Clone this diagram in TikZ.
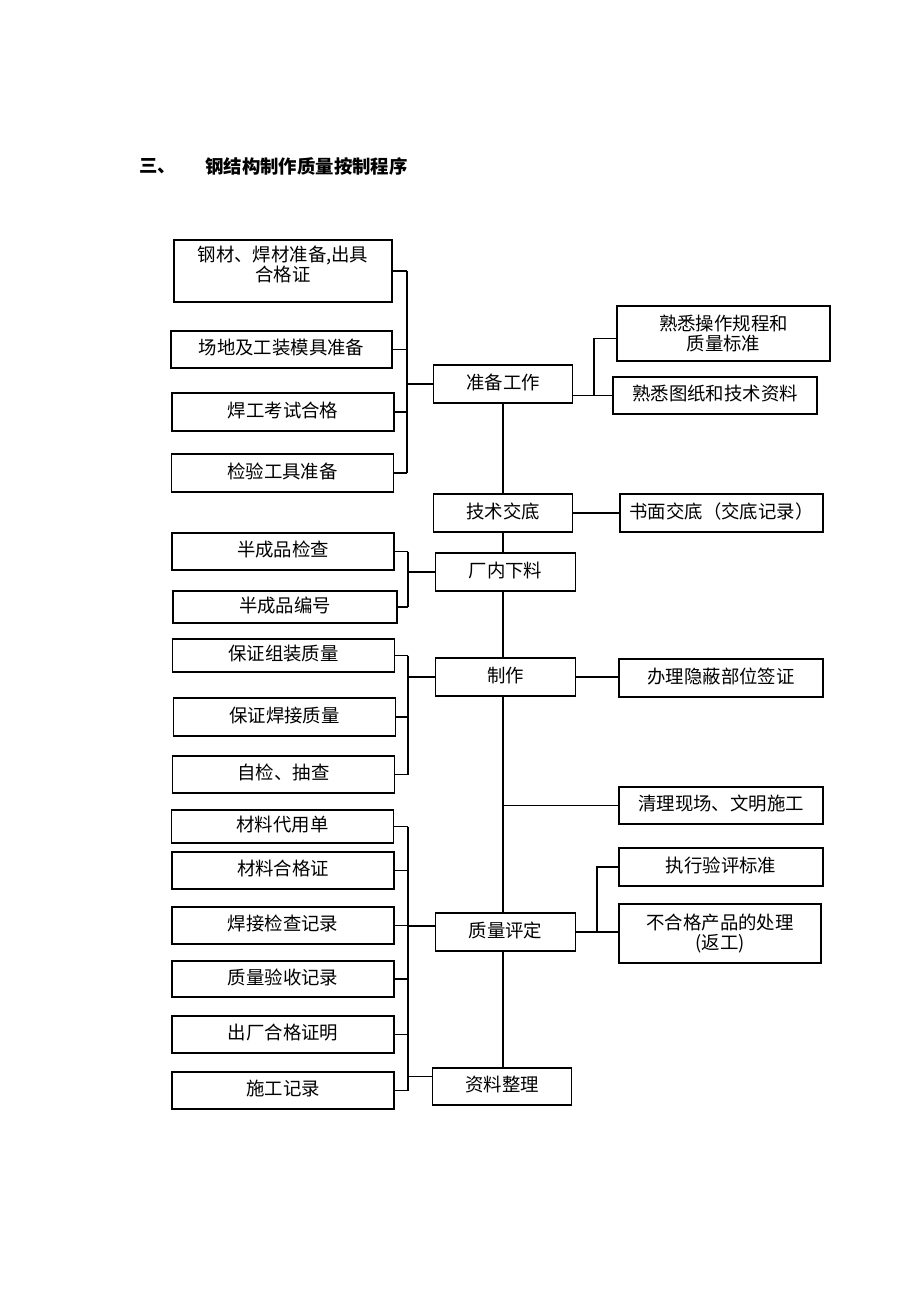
\documentclass[tikz,border=0pt]{standalone}
\usepackage{fontspec}
\setmainfont{Noto Sans CJK SC}
\usetikzlibrary{positioning,calc}
\tikzset{
	box/.style={draw=black, line width=0.9pt, inner sep=0pt, align=center, font=\fontsize{13.8pt}{15pt}\selectfont},
	row/.style={text height=12pt, text depth=4.5pt},
	leftbox/.style={box, row, minimum width=166.5pt, minimum height=27.75pt},
	midbox/.style={box, row, minimum width=104.5pt, minimum height=28.5pt},
	rightbox/.style={box, row, minimum width=153pt, minimum height=27.75pt},
	link/.style={line width=0.9pt},
	heading/.style={anchor=west, inner sep=0pt, font=\fontsize{13.8pt}{15pt}\selectfont\bfseries}
}

\begin{document}
\begin{tikzpicture}[x=0.75pt, y=-0.75pt]

	\useasboundingbox (0,0) rectangle (920,1302);

	\node (title-no) [heading] at (139,166) {三、};
	\node (title) [heading] at (205,166) {钢结构制作质量按制程序};

	% middle column
	\node (prep) [midbox] at (503,384) {准备工作};
	\node (brief) [midbox] at (503,513) {技术交底};
	\node (cutting) [midbox] at (505.5,572) {厂内下料};
	\node (making) [midbox] at (505.5,677) {制作};
	\node (rating) [midbox] at (505.5,932) {质量评定};
	\node (records) [midbox, minimum height=27.75pt] at (502,1086.5) {资料整理};

	% left column
	\node (material) [box, minimum width=163.5pt, minimum height=46.5pt] at (283,271) {\parbox[c][46.5pt][t]{160pt}{\centering\fontsize{13.8pt}{13.5pt}\selectfont\vspace*{4.5pt}钢材、焊材准备,出具\\合格证}};
	\node (site) [leftbox, minimum width=165.75pt] at (281.5,349.5) {场地及工装模具准备};
	\node (welder) [leftbox, minimum height=28.5pt] at (283,412) {焊工考试合格};
	\node (tools) [leftbox, minimum height=28.5pt] at (282.5,473) {检验工具准备};

	\node (semi-check) [leftbox] at (283,551.5) {半成品检查};
	\node (semi-num) [leftbox, minimum width=168pt, minimum height=24pt] at (285,607) {半成品编号};

	\node (assembly) [leftbox, minimum height=24.75pt] at (283.5,655.5) {保证组装质量};
	\node (welding) [leftbox, minimum height=28.5pt] at (284.5,717) {保证焊接质量};
	\node (selfcheck) [leftbox] at (283.5,774.5) {自检、抽查};

	\node (subst) [leftbox, minimum height=24.75pt] at (282.5,826.5) {材料代用单};
	\node (cert) [leftbox] at (283,870.5) {材料合格证};
	\node (weldrec) [leftbox] at (283,925.5) {焊接检查记录};
	\node (accept) [leftbox, minimum height=27pt] at (283,979) {质量验收记录};
	\node (factory) [leftbox] at (283,1034.5) {出厂合格证明};
	\node (buildrec) [leftbox] at (283,1090.5) {施工记录};

	% right column
	\node (rules) [box, minimum width=159.75pt, minimum height=41.25pt] at (723.5,333.5) {熟悉操作规程和\\质量标准};
	\node (drawings) [rightbox] at (715,395.5) {熟悉图纸和技术资料};
	\node (written) [rightbox, minimum width=152.25pt, minimum height=28.5pt] at (721.5,513) {书面交底（交底记录）};
	\node (hidden) [rightbox, minimum height=28.5pt] at (721,678) {办理隐蔽部位签证};
	\node (cleanup) [rightbox] at (721,805.5) {清理现场、文明施工};
	\node (standard) [rightbox, minimum height=28.5pt] at (721,867) {执行验评标准};
	\node (rework) [box, minimum width=151.5pt, minimum height=44.25pt] at (720,933.5) {不合格产品的处理\\(返工)};

	% bus lines
	\coordinate (bus-a) at (407,0);
	\coordinate (bus-b) at (408,0);
	\coordinate (trunk) at (503,0);
	\coordinate (fork-a) at (594,0);
	\coordinate (fork-b) at (597,0);
	\coordinate (rules-in) at ([yshift=-4pt]rules.west);
	\coordinate (rating-in) at ([yshift=4.5pt]rating.west);
	\coordinate (records-in) at ([yshift=7.5pt]records.west);

	\foreach \n in {material, site, welder, tools}
		\draw[link] (\n.east) -- (\n.east -| bus-a);
	\draw[link] (material.east -| bus-a) -- (tools.east -| bus-a);
	\draw[link] (prep.west) -- (prep.west -| bus-a);

	\foreach \n in {semi-check, semi-num}
		\draw[link] (\n.east) -- (\n.east -| bus-b);
	\draw[link] (semi-check.east -| bus-b) -- (semi-num.east -| bus-b);
	\draw[link] (cutting.west) -- (cutting.west -| bus-b);

	\foreach \n in {assembly, welding, selfcheck}
		\draw[link] (\n.east) -- (\n.east -| bus-b);
	\draw[link] (assembly.east -| bus-b) -- (selfcheck.east -| bus-b);
	\draw[link] (making.west) -- (making.west -| bus-b);

	\foreach \n in {subst, cert, weldrec, accept, factory, buildrec}
		\draw[link] (\n.east) -- (\n.east -| bus-b);
	\draw[link] (subst.east -| bus-b) -- (buildrec.east -| bus-b);
	\draw[link] (rating-in) -- (rating-in -| bus-b);
	\draw[link] (records-in) -- (records-in -| bus-b);

	% main line
	\foreach \a/\b in {prep/brief, brief/cutting, cutting/making, making/rating, rating/records}
		\draw[link] (trunk |- \a.south) -- (trunk |- \b.north);

	% right side
	\draw[link] (prep.east |- drawings.west) -- (drawings.west);
	\draw[link] (fork-a |- drawings.west) |- (rules-in);
	\draw[link] (brief.east) -- (written.west);
	\draw[link] (making.east) -- (making.east -| hidden.west);
	\draw[link] (trunk |- cleanup.west) -- (cleanup.west);
	\draw[link] (rating.east) -- (rating.east -| rework.west);
	\draw[link] (fork-b |- rating.east) |- (standard.west);

\end{tikzpicture}
\end{document}
